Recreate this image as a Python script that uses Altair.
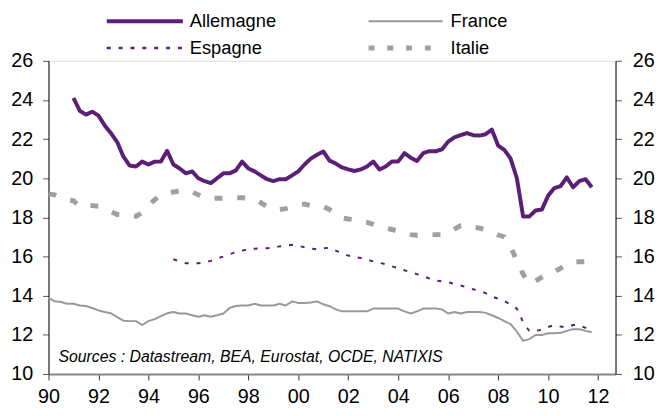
import altair as alt
import pandas as pd

# ---- data (quarterly) ----
allemagne_start = 1991.0
allemagne = [24.1, 23.45, 23.25, 23.4, 23.2, 22.7, 22.3, 21.85,
             21.1, 20.65, 20.6, 20.85, 20.7, 20.85, 20.85, 21.4,
             20.7, 20.5, 20.25, 20.35, 20.0, 19.85, 19.75, 20.0,
             20.25, 20.25, 20.4, 20.85, 20.5, 20.35, 20.15, 19.95,
             19.85, 19.95, 19.95, 20.15, 20.35, 20.7, 21.0, 21.2,
             21.37, 20.9, 20.75, 20.55, 20.45, 20.37, 20.45, 20.6,
             20.85, 20.45, 20.6, 20.86, 20.86, 21.28, 21.05, 20.88,
             21.28, 21.38, 21.38, 21.47, 21.87, 22.09, 22.2, 22.31,
             22.2, 22.18, 22.25, 22.48, 21.67, 21.45, 21.0, 20.0,
             18.05, 18.05, 18.35, 18.4, 19.1, 19.5, 19.6, 20.04,
             19.54, 19.85, 19.95, 19.54]

france_start = 1990.0
france = [13.89, 13.71, 13.68, 13.59, 13.59, 13.5, 13.47, 13.37,
          13.25, 13.17, 13.1, 12.9, 12.72, 12.7, 12.7, 12.5,
          12.7, 12.8, 12.95, 13.1, 13.17, 13.09, 13.09, 13.0,
          12.92, 13.0, 12.92, 13.0, 13.09, 13.37, 13.47, 13.5,
          13.5, 13.59, 13.5, 13.5, 13.5, 13.59, 13.5, 13.71,
          13.63, 13.63, 13.65, 13.71, 13.56, 13.46, 13.3, 13.2,
          13.2, 13.2, 13.2, 13.2, 13.34, 13.34, 13.34, 13.34,
          13.34, 13.2, 13.09, 13.2, 13.34, 13.34, 13.34, 13.3,
          13.09, 13.17, 13.09, 13.17, 13.17, 13.17, 13.12, 13.0,
          12.86, 12.7, 12.55, 12.16, 11.69, 11.78, 11.99, 11.99,
          12.08, 12.08, 12.1, 12.2, 12.29, 12.29, 12.2, 12.13]

espagne_start = 1995.0
espagne = [15.86, 15.75, 15.66, 15.66, 15.66, 15.7, 15.78, 15.9,
           16.0, 16.12, 16.22, 16.3, 16.37, 16.4, 16.42, 16.42,
           16.45, 16.52, 16.56, 16.6, 16.55, 16.47, 16.4, 16.37,
           16.42, 16.45, 16.3, 16.17, 16.05, 15.98, 15.92, 15.85,
           15.75, 15.68, 15.6, 15.5, 15.4, 15.3, 15.2, 15.1,
           14.99, 14.88, 14.78, 14.73, 14.69, 14.6, 14.52, 14.42,
           14.33, 14.25, 14.13, 13.95, 13.85, 13.72, 13.55, 13.34,
           12.65, 12.19, 12.2, 12.26, 12.4, 12.5, 12.42, 12.38,
           12.5, 12.5, 12.35, 12.16]

italie_start = 1990.0
italie = [19.2, 19.15, 19.0, 18.9, 18.85, 18.55, 18.6, 18.6,
          18.57, 18.45, 18.3, 18.15, 18.14, 18.1, 18.05, 18.25,
          18.6, 18.9, 19.15, 19.25, 19.3, 19.35, 19.4, 19.3,
          19.15, 19.0, 18.98, 18.98, 18.98, 18.98, 19.0, 19.0,
          18.98, 18.94, 18.75, 18.55, 18.42, 18.39, 18.45, 18.55,
          18.64, 18.68, 18.6, 18.58, 18.56, 18.4, 18.15, 17.97,
          17.92, 17.88, 17.8, 17.75, 17.65, 17.55, 17.45, 17.38,
          17.3, 17.2, 17.12, 17.09, 17.1, 17.12, 17.12, 17.12,
          17.2, 17.4, 17.58, 17.55, 17.5, 17.45, 17.38, 17.25,
          17.1, 17.0, 16.5, 15.78, 15.1, 14.6, 14.75, 14.95,
          15.15, 15.22, 15.4, 15.6, 15.72, 15.73, 15.73, 15.73]

x_ticks = list(range(1990, 2013, 2))
y_ticks = list(range(10, 27, 2))
source_text = "Sources : Datastream, BEA, Eurostat, OCDE, NATIXIS"


def frame(name, start, vals):
    return pd.DataFrame({"serie": name,
                         "t": [start + i / 4 for i in range(len(vals))],
                         "v": vals})


df = pd.concat([
    frame("Allemagne", allemagne_start, allemagne),
    frame("France", france_start, france),
    frame("Espagne", espagne_start, espagne),
    frame("Italie", italie_start, italie),
], ignore_index=True)

FONT = "Liberation Sans"
PURPLE = "#5b1f78"
GREY = "#a0a0a0"

xscale = alt.Scale(domain=[1990, 2012.7], nice=False, zero=False)
yscale = alt.Scale(domain=[10, 26], nice=False, zero=False)

xaxis = alt.Axis(values=x_ticks, format="d", labelExpr="substring(datum.label, 2, 4)",
                 title=None, grid=False, domainColor="#888888", domainWidth=2,
                 tickColor="#333333", tickSize=6, labelFontSize=20, labelPadding=7,
                 labelColor="#000000", labelFont=FONT, labelFlush=False)
yaxis_left = alt.Axis(values=y_ticks, title=None, grid=False, domainColor="#000000",
                      tickColor="#555555", tickSize=6, labelFontSize=20, labelPadding=10,
                      labelColor="#000000", labelFont=FONT)
yaxis_right = alt.Axis(values=y_ticks, title=None, grid=False, domainColor="#000000",
                       tickColor="#555555", tickSize=6, labelFontSize=20, labelPadding=11,
                       labelColor="#000000", labelFont=FONT, orient="right")

base = alt.Chart(df)


def series_layer(name, **style):
    return base.transform_filter(alt.datum.serie == name).mark_line(
        strokeCap="butt", strokeJoin="round", **style).encode(
        x=alt.X("t:Q", scale=xscale, axis=xaxis),
        y=alt.Y("v:Q", scale=yscale, axis=yaxis_left),
    )


lines = alt.layer(
    series_layer("France", color="#999999", strokeWidth=2),
    series_layer("Italie", color=GREY, strokeWidth=5, strokeDash=[8, 15]),
    series_layer("Espagne", color=PURPLE, strokeWidth=2, strokeDash=[4, 8]),
    series_layer("Allemagne", color=PURPLE, strokeWidth=4),
)

right_axis = base.mark_line(opacity=0).encode(
    x=alt.X("t:Q", scale=xscale, axis=xaxis),
    y=alt.Y("v:Q", scale=yscale, axis=yaxis_right),
)

one = pd.DataFrame({"k": [0]})


def leg_line(x0, x1, y, **style):
    return alt.Chart(one).mark_rule(strokeCap="butt", **style).encode(
        x=alt.value(x0), x2=alt.value(x1), y=alt.value(y))


def leg_text(x, y, txt):
    return alt.Chart(one).mark_text(align="left", baseline="middle", font=FONT,
                                    fontSize=18.5, color="#000000").encode(
        x=alt.value(x), y=alt.value(y), text=alt.value(txt))


legend = alt.layer(
    leg_line(59, 136, -40, color=PURPLE, strokeWidth=4),
    leg_text(143, -40, "Allemagne"),
    leg_line(324, 399, -40, color="#999999", strokeWidth=2),
    leg_text(407, -40, "France"),
    leg_line(59, 136, -13, color=PURPLE, strokeWidth=2.5, strokeDash=[4, 8]),
    leg_text(143, -13, "Espagne"),
    leg_line(324, 399, -13, color=GREY, strokeWidth=5, strokeDash=[6, 13]),
    leg_text(407, -13, "Italie"),
)

source = alt.Chart(one).mark_text(align="left", baseline="alphabetic", font=FONT,
                                  fontSize=16, fontStyle="italic", color="#000000").encode(
    x=alt.value(10), y=alt.value(305), text=alt.value(source_text))

chart = alt.layer(lines, right_axis, legend, source).resolve_scale(
    y="independent"
).properties(
    width=574, height=317,
    autosize=alt.AutoSizeParams(type="none"),
    padding={"left": 41, "top": 51, "right": 44, "bottom": 32},
).configure_view(stroke=None).configure(background="#ffffff")

chart.save("out.html", embed_options={"renderer": "svg", "actions": False})
